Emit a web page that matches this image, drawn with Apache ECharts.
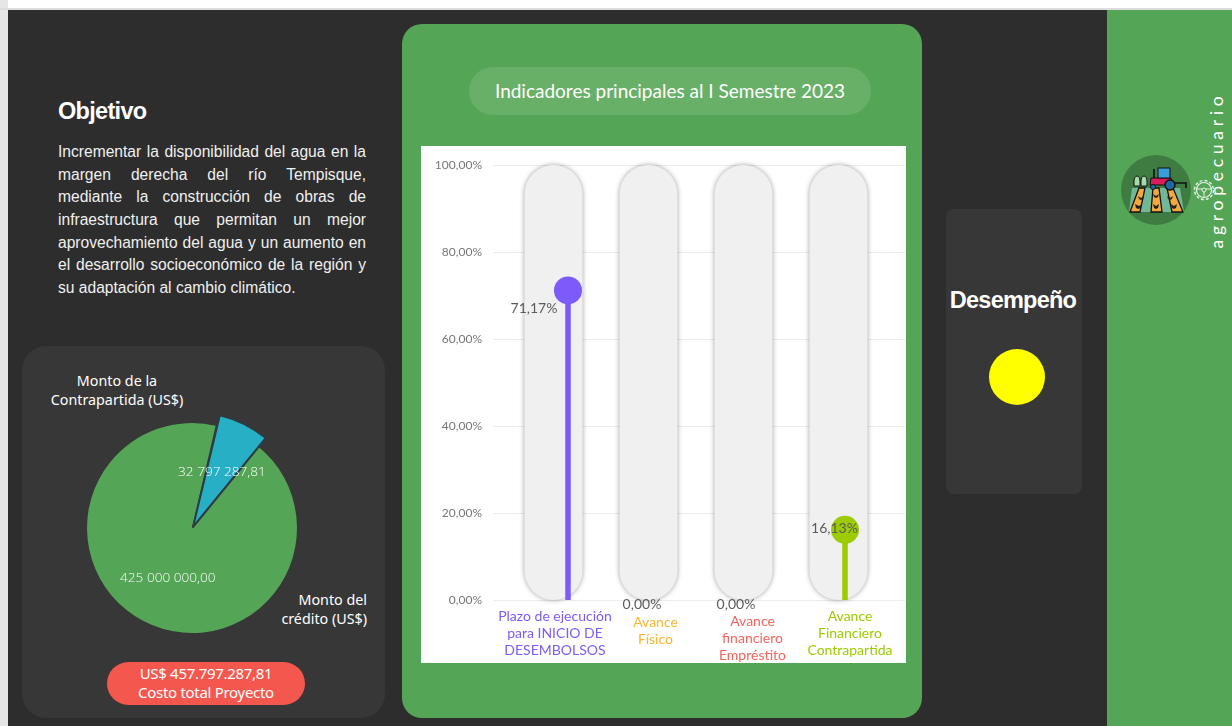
<!DOCTYPE html>
<html><head><meta charset="utf-8">
<script src="https://cdn.jsdelivr.net/npm/echarts@6/dist/echarts.min.js"></script>
<style>
html,body{margin:0;padding:0;width:1232px;height:726px;overflow:hidden;background:#fff}
.a{position:absolute;box-sizing:border-box}
#chart{position:absolute;left:0;top:0;width:1232px;height:726px}
.l{white-space:nowrap;text-align:justify;text-align-last:justify;width:308px;height:22.7px;line-height:22.7px}
</style></head><body>
<div class="a" style="left:0;top:0;width:8px;height:726px;background:#e6e6e6"></div>
<div class="a" style="left:0;top:8px;width:1232px;height:2px;background:#dcdcdc"></div>
<div class="a" style="left:8px;top:10px;width:1099px;height:716px;background:#2d2d2d"></div>
<div class="a" style="left:1107px;top:10px;width:125px;height:716px;background:#55a556"></div>
<div class="a" style="left:22px;top:346px;width:363px;height:372px;border-radius:24px;background:#373737"></div>
<div class="a" style="left:402px;top:24px;width:520px;height:694px;border-radius:20px;background:#55a556"></div>
<div class="a" style="left:469px;top:67px;width:402px;height:48px;border-radius:24px;background:#68b068;color:#fff;font:19px Lato,sans-serif;text-align:center;line-height:48px">Indicadores principales al I Semestre 2023</div>
<div class="a" style="left:421px;top:146px;width:485px;height:517px;background:#fff"></div>
<div class="a" style="left:946px;top:209px;width:136px;height:285px;border-radius:8px;background:#373737"></div>
<div class="a" style="left:946px;top:284px;width:134px;text-align:center;color:#fff;font:bold 23.5px/32px 'Liberation Sans',sans-serif;letter-spacing:-.75px">Desempeño</div>
<div class="a" style="left:989px;top:349px;width:56px;height:56px;border-radius:50%;background:#ffff00"></div>
<div class="a" style="left:58px;top:96px;color:#fff;font:bold 23.5px/30px 'Liberation Sans',sans-serif;letter-spacing:-.7px">Objetivo</div>
<div class="a" style="left:58px;top:141px;color:#f0f0f0;font:15.6px 'Liberation Sans',sans-serif">
<div class="l">Incrementar la disponibilidad del agua en la</div>
<div class="l">margen derecha del río Tempisque,</div>
<div class="l">mediante la construcción de obras de</div>
<div class="l">infraestructura que permitan un mejor</div>
<div class="l">aprovechamiento del agua y un aumento en</div>
<div class="l">el desarrollo socioeconómico de la región y</div>
<div class="l" style="text-align-last:left">su adaptación al cambio climático.</div>
</div>
<div class="a" style="left:107px;top:662px;width:198px;height:43px;border-radius:22px;background:#f4574e;color:#fff;font:15px/19px 'Noto Sans',sans-serif;text-align:center;padding-top:2px;letter-spacing:-.3px">US$ 457.797.287,81<br>Costo total Proyecto</div>
<div class="a" style="left:42px;top:371px;width:150px;text-align:center;color:#fff;font:14.3px/19px 'Noto Sans',sans-serif">Monto de la<br>Contrapartida (US$)</div>
<div class="a" style="left:247px;top:590px;width:120px;text-align:right;color:#fff;font:14.3px/19px 'Noto Sans',sans-serif">Monto del<br>crédito (US$)</div>
<div class="a" style="left:1217px;top:170px;width:0;height:0"><div style="position:absolute;left:-90px;top:-12px;width:180px;height:24px;transform:rotate(-90deg);color:#fff;font:17.5px/24px Lato,sans-serif;letter-spacing:4.75px;text-align:center">agropecuario</div></div>
<svg class="a" style="left:1120px;top:154px" width="100" height="72" viewBox="0 0 100 72">
<circle cx="36" cy="36" r="35" fill="#3f7c42"/>
<polygon points="12,34 60,34 64,58 9,58" fill="#72b896"/>
<g stroke="#111" stroke-width="1.3" fill="#f5a93c"><polygon points="19,34 25,34 20,58 10,58"/><polygon points="33,34 39,34 42,58 31,58"/><polygon points="47,34 53,34 63,58 52,58"/></g>
<g fill="#222"><path d="M18 42l3 2 3-2-1 3-2 1-2-1zM15 50l4 2 3-2-1 4-3 1-2-1zM33 40l3 2 3-2-1 3-2 1-2-1zM33 50l3 2 3-2-1 4-2 1-2-1zM47 42l3 2 3-2-1 3-2 1-2-1zM51 50l3 2 3-2-1 4-2 1-2-1z"/></g>
<path d="M14 27a3 5 0 0 1 6 0v5h-6zM21 27a3 5 0 0 1 6 0v5h-6z" fill="#a8d8b0" stroke="#111"/>
<path d="M31 24h20l2 7H30z" fill="#d91c5c" stroke="#111"/>
<rect x="38" y="14" width="12" height="10" fill="#3b9dd8" stroke="#111"/>
<circle cx="50" cy="31" r="5" fill="#1b6aa5" stroke="#111" stroke-width="1.5"/>
<circle cx="33" cy="33" r="2.5" fill="#1b6aa5" stroke="#111"/>
<path d="M34 24v-9M55 29h11v5" stroke="#111" stroke-width="1.6" fill="none"/>
<circle cx="84" cy="36" r="7.5" fill="none" stroke="#e8f4e8" stroke-width="1.2"/><circle cx="84" cy="36" r="2" fill="none" stroke="#e8f4e8"/><path d="M77 35l5 0M86 35l5 0M84 38v5" stroke="#e8f4e8"/><circle cx="84" cy="36" r="9.5" fill="none" stroke="#e8f4e8" stroke-width="1.4" stroke-dasharray="3 2"/>
</svg>
<div id="chart"></div>
<script>
const categories = ['Plazo de ejecución\npara INICIO DE\nDESEMBOLSOS', 'Avance\nFísico', 'Avance\nfinanciero\nEmpréstito', 'Avance\nFinanciero\nContrapartida'];
const avance = [71.17, 0, 0, 16.13];
const tope = [100, 100, 100, 100];
const colores = ['#7d5bfb', '#fbb62c', '#f6645c', '#9ccb00'];
const tickFormat = v => v.toFixed(2).replace('.', ',') + '%';
const pieNames = ['Monto de la Contrapartida (US$)', 'Monto del crédito (US$)'];
const pieValues = [32797287.81, 425000000];
const pieLabels = ['32 797 287,81', '425 000 000,00'];
const pieColors = ['#27afc6', '#55a556'];

const stemDx = [14.5, 0, 0, 6.5];
const labelDx = [-19.5, -6.5, -7.5, -4];
const labelDy = [18, 4, 4, -1];
const axisDx = [1.5, 7, 9, 11.5];
const axisDy = [0, 6, 5, 0];
const FONT = 'Lato, sans-serif';
const rich = {};
categories.forEach((c, i) => {
  const pad = axisDx[i] * 2;
  rich['a' + i] = {color: colores[i], fontSize: 14, lineHeight: 17 + axisDy[i], fontFamily: FONT, padding: [axisDy[i], 0, 0, pad], align: 'center'};
  rich['b' + i] = {color: colores[i], fontSize: 14, lineHeight: 17, fontFamily: FONT, padding: [0, 0, 0, pad], align: 'center'};
});
const pieLabelStyle = {show: true, position: 'inside', color: '#fff', fontSize: 13.6, fontWeight: 300, fontFamily: "'Open Sans', sans-serif",
  formatter: p => pieLabels[p.dataIndex]};

const chart = echarts.init(document.getElementById('chart'), null, {width: 1232, height: 726});
chart.setOption({
  backgroundColor: 'transparent',
  animation: false,
  grid: [
    {left: 493, top: 165, width: 412, height: 435},
    {left: 506, top: 165, width: 380, height: 435}
  ],
  xAxis: [
    {gridIndex: 0, type: 'category', data: ['', '', '', ''], show: false},
    {gridIndex: 1, type: 'category', data: categories,
      axisLine: {show: false}, axisTick: {show: false},
      axisLabel: {interval: 0, margin: 8, verticalAlign: 'top',
        formatter: (v) => {
          const i = categories.indexOf(v);
          return v.split('\n').map((s, k) => '{' + (k === 0 ? 'a' : 'b') + i + '|' + s + '}').join('\n');
        }, rich}}
  ],
  yAxis: [
    {gridIndex: 0, type: 'value', min: 0, max: 100, interval: 20,
      axisLine: {show: false}, axisTick: {show: false},
      splitLine: {lineStyle: {color: '#ececec', width: 1}},
      axisLabel: {margin: 11, color: '#777', fontSize: 12, fontFamily: FONT, formatter: tickFormat}},
    {gridIndex: 1, type: 'value', min: 0, max: 100, interval: 20, show: false}
  ],
  series: [
    {type: 'bar', name: 'Fondo', xAxisIndex: 1, yAxisIndex: 1, data: tope, barWidth: 58, silent: true,
      itemStyle: {color: '#f0f0f0', borderWidth: 0, borderRadius: 29,
        shadowColor: 'rgba(0,0,0,.38)', shadowBlur: 5}},
    {type: 'custom', name: 'Avance', xAxisIndex: 1, yAxisIndex: 1, data: avance.map((v, i) => [i, v]), z: 5,
      renderItem: (params, api) => {
        const i = api.value(0), v = api.value(1);
        const p = api.coord([i, v]), b = api.coord([i, 0]);
        const x = p[0] + stemDx[i];
        const children = [];
        if (v > 0) {
          children.push({type: 'rect', shape: {x: x - 2.75, y: p[1], width: 5.5, height: b[1] - p[1]}, style: {fill: colores[i]}});
          children.push({type: 'circle', shape: {cx: x, cy: p[1], r: 14}, style: {fill: colores[i]}});
        }
        children.push({type: 'text', z2: 10, style: {
          text: v.toFixed(2).replace('.', ',') + '%', x: p[0] + labelDx[i], y: p[1] + labelDy[i],
          align: 'center', verticalAlign: 'middle', fill: '#5c5c5c', font: '14px ' + FONT}});
        return {type: 'group', children};
      }},
    {type: 'pie', name: 'Crédito', center: [192, 528], radius: [0, 105], startAngle: 77, clockwise: true, silent: true, z: 2,
      data: pieValues.map((v, i) => ({value: v, name: pieNames[i],
        label: i === 1 ? pieLabelStyle : {show: false},
        itemStyle: {color: i === 1 ? pieColors[1] : 'transparent', borderWidth: 0}})),
      labelLine: {show: false}},
    {type: 'pie', name: 'Contrapartida', center: [193, 527], radius: [0, 115], startAngle: 76.5, clockwise: true, silent: true, z: 3,
      data: pieValues.map((v, i) => ({value: v, name: pieNames[i],
        label: i === 0 ? pieLabelStyle : {show: false},
        itemStyle: i === 0 ? {color: pieColors[0], borderColor: '#2f3b42', borderWidth: 2} : {color: 'transparent', borderWidth: 0}})),
      labelLayout: {dx: 2, dy: -1},
      labelLine: {show: false}}
  ]
});
</script>
</body></html>
